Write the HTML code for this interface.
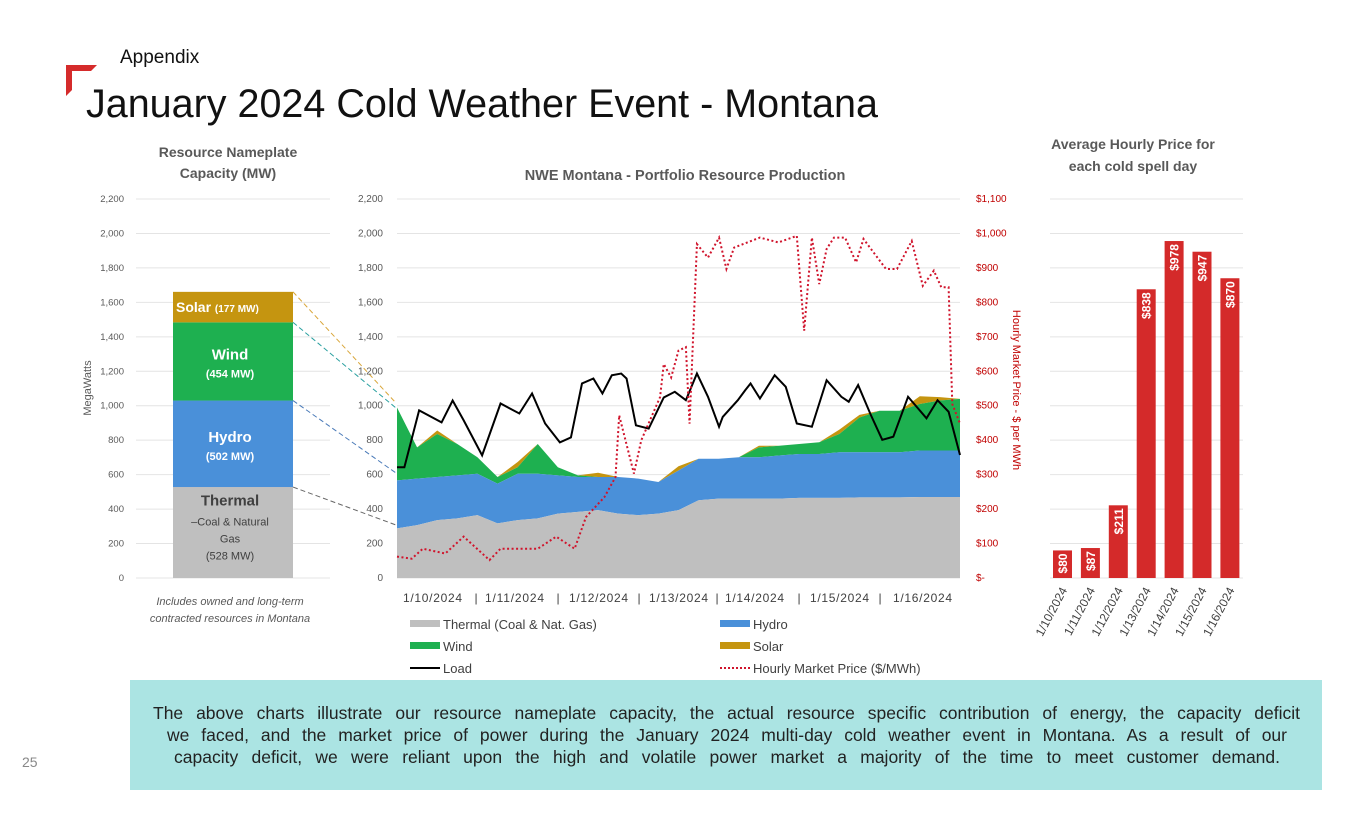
<!DOCTYPE html>
<html><head><meta charset="utf-8">
<style>
body{margin:0;background:#fff;width:1365px;height:829px;overflow:hidden;font-family:"Liberation Sans",sans-serif;position:relative}
.abs{position:absolute}
.ln{display:block;width:1147px;margin-left:23px;text-align:justify;text-align-last:justify;white-space:nowrap;height:22px}
</style></head>
<body>
<div class="abs" style="left:120px;top:47px;font-size:19px;color:#111">Appendix</div>
<svg class="abs" style="left:60px;top:60px" width="45" height="45"><polygon points="6,5 37,5 31,11 12,11 12,30 6,36" fill="#d52b2b"/></svg>
<div class="abs" style="left:86px;top:82px;font-size:39.5px;color:#111;white-space:nowrap">January 2024 Cold Weather Event - Montana</div>
<div class="abs" style="left:22px;top:754px;font-size:14px;color:#888">25</div>
<div class="abs" style="left:130px;top:680px;width:1192px;height:110px;background:#abe4e3;font-size:17.5px;color:#222;line-height:22px;box-sizing:border-box;padding:22px 0 0"><span class="ln">The above charts illustrate our resource nameplate capacity, the actual resource specific contribution of energy, the capacity deficit</span><span class="ln" style="width:1120px;margin-left:37px">we faced, and the market price of power during the January 2024 multi-day cold weather event in Montana. As a result of our</span><span class="ln" style="width:1106px;margin-left:44px">capacity deficit, we were reliant upon the high and volatile power market a majority of the time to meet customer demand.</span></div>
<svg id="chart" class="abs" style="left:0;top:0" width="1365" height="680"></svg>
<script>
// ---- nameplate data
const npCats=["Thermal","Hydro","Wind","Solar"];
const npVals=[528,502,454,177];
// ---- production data (6-hour grid)
const gridHours=[0,6,12,18,24,30,36,42,48,54,60,66,72,78,84,90,96,102,108,114,120,126,132,138,144,150,156,162,168];
const thermalMW=[288,307,336,346,365,317,336,346,374,384,394,374,365,374,394,451,461,461,461,461,465,465,465,468,468,468,470,470,470];
const hydroMW=[279,270,250,250,240,231,269,259,222,202,192,212,212,183,230,241,231,240,240,250,255,255,265,262,262,262,270,270,270];
const windMW=[423,181,250,182,96,38,38,173,47,10,0,0,0,0,0,0,0,0,57,57,58,68,106,202,241,241,270,290,300];
const solarMW=[0,0,20,0,0,0,30,0,0,0,25,0,0,0,25,0,0,0,10,0,0,0,25,15,0,0,45,20,0];
const loadHours=[0,2.2,6.6,13.3,16.6,19.9,25.4,30.9,36.5,40.3,44.2,48.6,51.9,55.2,58.6,61.3,64.1,66.9,68.5,71.3,75.1,79.6,82.9,86.2,89.5,92.8,96.1,97.2,101.7,103.9,105.5,108.3,112.7,116,119.3,123.8,128.2,132.6,134.8,137.6,141.4,144.8,148.1,152.5,158,161.3,164.6,168];
const loadMW=[643,643,973,903,1030,915,712,1013,955,1071,897,787,816,1129,1158,1071,1177,1187,1158,886,867,1048,1081,1032,1187,1052,878,935,1032,1090,1129,1042,1177,1110,897,878,1148,1052,1023,1120,946,802,820,1052,927,1032,965,714];
const priceHours=[0,4.4,7.7,14.4,19.9,27.6,30.9,42,47.5,53,56.4,61.9,65.2,66.3,70.7,72.9,78.5,79.6,81.8,84,86.2,87.3,89.5,92.8,96.1,98.3,100.6,108.3,113.8,119.3,121.5,123.8,126,128.2,130.4,133.7,137,139.2,145.9,149.2,153.6,156.9,160.2,162.4,164.6,165.7,168];
const priceUSD=[62,56,85,71,120,52,85,85,120,85,177,235,293,472,303,400,525,621,582,660,670,448,969,930,988,897,959,988,974,993,718,988,853,955,988,988,916,984,897,897,978,848,892,844,844,505,448];
const mwTicks=[0,200,400,600,800,1000,1200,1400,1600,1800,2000,2200];
const mwTickLabels=["0","200","400","600","800","1,000","1,200","1,400","1,600","1,800","2,000","2,200"];
const priceTickLabels=["$-","$100","$200","$300","$400","$500","$600","$700","$800","$900","$1,000","$1,100"];
const dayLabels=["1/10/2024","1/11/2024","1/12/2024","1/13/2024","1/14/2024","1/15/2024","1/16/2024"];
const avgPrice=[80,87,211,838,978,947,870];

const svg=document.getElementById('chart');const NS='http://www.w3.org/2000/svg';
function el(t,a,p){const e=document.createElementNS(NS,t);for(const k in a)e.setAttribute(k,a[k]);(p||svg).appendChild(e);return e;}
function txt(x,y,s,a,p){const e=el('text',Object.assign({x:x,y:y,'font-family':'Liberation Sans, sans-serif'},a),p);e.textContent=s;return e;}
const Y0=578,YT=199;
const yMW=v=>Y0-(v/2200)*(Y0-YT);
const yP=v=>Y0-(v/1100)*(Y0-YT);
const X0=397,X1=960;
const xH=h=>X0+h/168*(X1-X0);

// ---- left chart
let g=el('g',{});


txt(228,157,'Resource Nameplate',{'font-size':14,'font-weight':'bold','fill':'#595959','text-anchor':'middle'},g);
txt(228,178,'Capacity (MW)',{'font-size':14,'font-weight':'bold','fill':'#595959','text-anchor':'middle'},g);
mwTicks.forEach((v,i)=>{
  const gl=el('line',{x1:136,x2:330,y1:yMW(v),y2:yMW(v),stroke:'#e4e4e4','stroke-width':1},g);
  
  const t=txt(124,yMW(v)+3,mwTickLabels[i],{'font-size':9.5,'fill':'#595959','text-anchor':'end'},g);
  
});
const yt=txt(0,0,'MegaWatts',{'font-size':11,'fill':'#595959','text-anchor':'middle',transform:'translate(91,388) rotate(-90)'},g);

const npColors=['#bfbfbf','#4a90d9','#1eb050','#c59510'];
let cum=0;const npTops=[];
npVals.forEach((v,i)=>{
  const r=el('rect',{x:173,width:120,y:yMW(cum+v),height:yMW(cum)-yMW(cum+v),fill:npColors[i]},g);
  
  cum+=v;npTops.push(yMW(cum));
});
const segMid=i=>{let s=0;for(let k=0;k<i;k++)s+=npVals[k];return (yMW(s)+yMW(s+npVals[i]))/2;};
let m=segMid(0);
txt(230,m-27,'Thermal',{'font-size':15,'font-weight':'bold','fill':'#404040','text-anchor':'middle'},g);
txt(230,m-7,'–Coal & Natural',{'font-size':11,'fill':'#404040','text-anchor':'middle'},g);
txt(230,m+10,'Gas',{'font-size':11,'fill':'#404040','text-anchor':'middle'},g);
txt(230,m+27,'('+npVals[0]+' MW)',{'font-size':11,'fill':'#404040','text-anchor':'middle'},g);
m=segMid(1);
txt(230,m-2,'Hydro',{'font-size':15,'font-weight':'bold','fill':'#fff','text-anchor':'middle'},g);
txt(230,m+16,'('+npVals[1]+' MW)',{'font-size':11,'font-weight':'bold','fill':'#fff','text-anchor':'middle'},g);
m=segMid(2);
txt(230,m-2,'Wind',{'font-size':15,'font-weight':'bold','fill':'#fff','text-anchor':'middle'},g);
txt(230,m+16,'('+npVals[2]+' MW)',{'font-size':11,'font-weight':'bold','fill':'#fff','text-anchor':'middle'},g);
m=segMid(3);
const st=txt(176,m+5,'',{'font-size':14,'font-weight':'bold','fill':'#fff'},g);
st.innerHTML='Solar <tspan font-size="10">('+npVals[3]+' MW)</tspan>';
txt(230,605,'Includes owned and long-term',{'font-size':11,'font-style':'italic','fill':'#595959','text-anchor':'middle'},g);
txt(230,622,'contracted resources in Montana',{'font-size':11,'font-style':'italic','fill':'#595959','text-anchor':'middle'},g);
// connectors
const conColors=['#666','#4a7ab8','#2aa0a0','#d9a63a'];
const conTargets=[525,473,408,403];
[yMW(npVals[0]),npTops[1],npTops[2],npTops[3]].forEach((y,i)=>{
  const l=el('line',{x1:293,y1:y,x2:396,y2:conTargets[i],stroke:conColors[i],'stroke-width':1,'stroke-dasharray':'5,3'});
  
});

// ---- main chart
const mg=el('g',{});

txt(685,180,'NWE Montana - Portfolio Resource Production',{'font-size':14.5,'font-weight':'bold','fill':'#595959','text-anchor':'middle'},mg);
mwTicks.forEach((v,i)=>{
  const gl=el('line',{x1:X0,x2:X1,y1:yMW(v),y2:yMW(v),stroke:'#e4e4e4'},mg);
  
  const t=txt(383,yMW(v)+3,mwTickLabels[i],{'font-size':10,'fill':'#595959','text-anchor':'end'},mg);
  
  const t2=txt(976,yP(v/2)+3,priceTickLabels[i],{'font-size':10,'fill':'#c00000'},mg);
  
});
const pt=txt(0,0,'Hourly Market Price - $ per MWh',{'font-size':11,'fill':'#c00000','text-anchor':'middle',transform:'translate(1013,390) rotate(90)'},mg);

function stackArea(lower,upper,color,name){
  let d='M'+xH(gridHours[0])+','+yMW(upper[0]);
  for(let i=1;i<gridHours.length;i++)d+='L'+xH(gridHours[i])+','+yMW(upper[i]);
  for(let i=gridHours.length-1;i>=0;i--)d+='L'+xH(gridHours[i])+','+yMW(lower[i]);
  const p=el('path',{d:d+'Z',fill:color},mg);
  
}
const zero=gridHours.map(()=>0);
const c1=thermalMW.slice();
const c2=c1.map((v,i)=>v+hydroMW[i]);
const c3=c2.map((v,i)=>v+windMW[i]);
const c4=c3.map((v,i)=>v+solarMW[i]);
stackArea(c3,c4,'#c59510','solar-area');
stackArea(c2,c3,'#1eb050','wind-area');
stackArea(c1,c2,'#4a90d9','hydro-area');
stackArea(zero,c1,'#bfbfbf','thermal-area');
let d='';loadHours.forEach((h,i)=>{d+=(i?'L':'M')+xH(h)+','+yMW(loadMW[i]);});
const ll=el('path',{d:d,fill:'none',stroke:'#000','stroke-width':2},mg);

d='';priceHours.forEach((h,i)=>{d+=(i?'L':'M')+xH(h)+','+yP(priceUSD[i]);});
const pl=el('path',{d:d,fill:'none',stroke:'#d0142c','stroke-width':2,'stroke-dasharray':'2,2.5'},mg);

// x labels
const dayStarts=[403,485,569,649,725,810,893];
const sepX=[476,558,639,717,799,880];
dayLabels.forEach((s,i)=>{
  const t=txt(dayStarts[i],602,s,{'font-size':12,'fill':'#404040','textLength':59},mg);
  
});
sepX.forEach(x=>{
  const t=txt(x,602,'|',{'font-size':12,'fill':'#404040','text-anchor':'middle'},mg);
  
});
// legend
const leg=[['Thermal (Coal & Nat. Gas)','#bfbfbf','rect',410,629],['Hydro','#4a90d9','rect',720,629],['Wind','#1eb050','rect',410,651],['Solar','#c59510','rect',720,651],['Load','#000','line',410,673],['Hourly Market Price ($/MWh)','#d0142c','dot',720,673]];
leg.forEach(l=>{
  const lg=el('g',{},mg);
  
  if(l[2]==='rect')el('rect',{x:l[3],y:l[4]-9,width:30,height:7,fill:l[1]},lg);
  else el('line',{x1:l[3],x2:l[3]+30,y1:l[4]-5,y2:l[4]-5,stroke:l[1],'stroke-width':2,'stroke-dasharray':l[2]==='dot'?'2,2':'none'},lg);
  txt(l[3]+33,l[4],l[0],{'font-size':13,'fill':'#404040'},lg);
});

// ---- right bar chart
const bg=el('g',{});

txt(1133,149,'Average Hourly Price for',{'font-size':14,'font-weight':'bold','fill':'#595959','text-anchor':'middle'},bg);
txt(1133,171,'each cold spell day',{'font-size':14,'font-weight':'bold','fill':'#595959','text-anchor':'middle'},bg);
for(let v=0;v<=1100;v+=100){
  const gl=el('line',{x1:1050,x2:1243,y1:yP(v),y2:yP(v),stroke:'#e4e4e4'},bg);
  
}
const bw=19,pitch=27.9,bx0=1062.5;
avgPrice.forEach((v,i)=>{
  const cx=bx0+i*pitch;
  const r=el('rect',{x:cx-bw/2,y:yP(v),width:bw,height:Y0-yP(v),fill:'#d42a2a'},bg);
  
  const t=txt(0,0,'$'+v,{'font-size':12,'font-weight':'bold','fill':'#fff','text-anchor':'end',transform:'translate('+(cx+4.5)+','+(yP(v)+3)+') rotate(-90)'},bg);
  
  const d2=txt(0,0,dayLabels[i],{'font-size':12,'fill':'#404040','text-anchor':'end',transform:'translate('+(cx+5)+',590) rotate(-62)'},bg);
  
});
</script>
</body></html>
